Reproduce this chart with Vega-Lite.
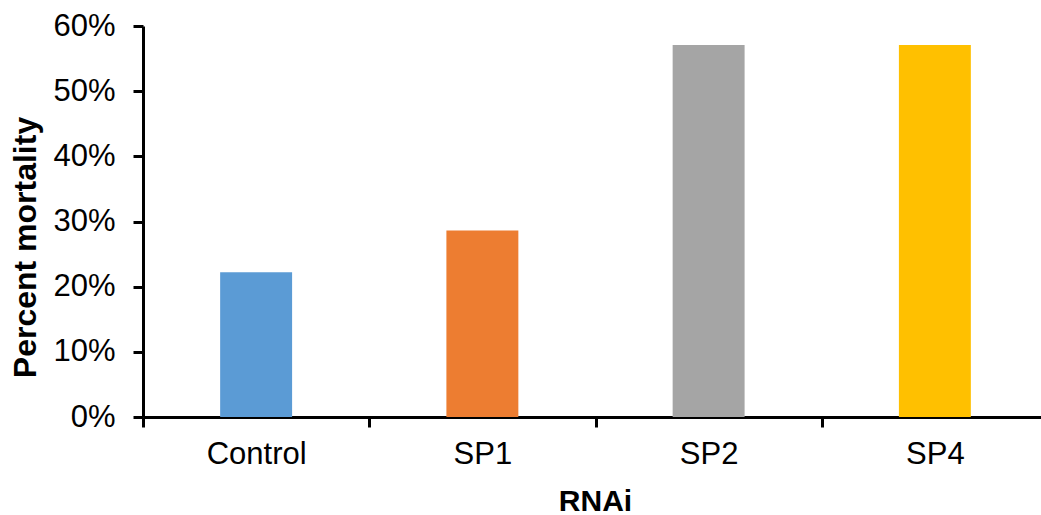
{
  "$schema": "https://vega.github.io/schema/vega-lite/v6.json",
  "width": 898,
  "height": 391,
  "autosize": {"type": "none"},
  "padding": {"left": 143, "top": 26, "right": 0, "bottom": 98},
  "background": "white",
  "config": {
    "view": {"stroke": null},
    "font": "Liberation Sans",
    "axis": {
      "grid": false,
      "domainColor": "black",
      "domainWidth": 3,
      "tickColor": "black",
      "tickWidth": 3,
      "labelColor": "black",
      "labelFont": "Liberation Sans",
      "labelFontSize": 31,
      "titleFont": "Liberation Sans",
      "titleFontSize": 31,
      "titleFontWeight": "bold",
      "titleColor": "black"
    }
  },
  "data": {
    "values": [
      {"rnai": "Control", "mortality": 0.222},
      {"rnai": "SP1", "mortality": 0.286},
      {"rnai": "SP2", "mortality": 0.571},
      {"rnai": "SP4", "mortality": 0.571}
    ]
  },
  "mark": {"type": "bar", "width": {"band": 0.318}},
  "encoding": {
    "x": {
      "field": "rnai",
      "type": "nominal",
      "sort": null,
      "title": "RNAi",
      "scale": {"range": [0, 905], "paddingInner": 0, "paddingOuter": 0},
      "axis": {
        "labelAngle": 0,
        "tickBand": "extent",
        "tickSize": 10,
        "labelPadding": 12,
        "titleFontSize": 30,
        "titleX": 452,
        "titleY": 93,
        "titleAlign": "center",
        "titleBaseline": "alphabetic"
      }
    },
    "y": {
      "field": "mortality",
      "type": "quantitative",
      "title": "Percent mortality",
      "scale": {"domain": [0, 0.6], "nice": false},
      "axis": {
        "format": ".0%",
        "values": [0, 0.1, 0.2, 0.3, 0.4, 0.5, 0.6],
        "tickSize": 10,
        "labelPadding": 18,
        "titleFontSize": 32,
        "titleX": -101,
        "titleY": 221,
        "titleAngle": -90,
        "titleAlign": "center",
        "titleBaseline": "bottom"
      }
    },
    "color": {
      "field": "rnai",
      "type": "nominal",
      "sort": null,
      "legend": null,
      "scale": {
        "domain": ["Control", "SP1", "SP2", "SP4"],
        "range": ["#5B9BD5", "#ED7D31", "#A5A5A5", "#FFC000"]
      }
    }
  }
}
